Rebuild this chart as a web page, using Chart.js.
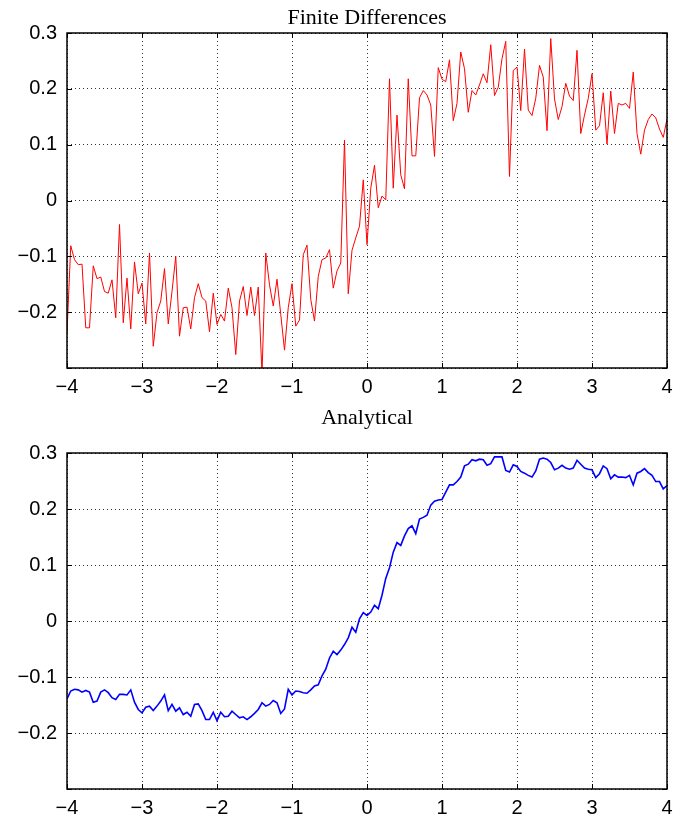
<!DOCTYPE html>
<html>
<head>
<meta charset="utf-8">
<script src="https://cdn.jsdelivr.net/npm/chart.js@4/dist/chart.umd.min.js"></script>
<style>
  html, body { margin: 0; padding: 0; background: #fff; }
  canvas { position: absolute; left: 0; }
  #graph-1 { top: 0; }
  #graph-2 { top: 410px; }
</style>
</head>
<body>
<canvas id="graph-1" width="688" height="410"></canvas>
<canvas id="graph-2" width="688" height="409"></canvas>
<script>
// sample grid: x from -4 to 4 in steps of 0.05 (161 samples)
const xStart = -4;
const xStep = 0.05;

const finiteDiff = [
  -0.237, -0.081, -0.106, -0.115, -0.114, -0.228, -0.228, -0.117, -0.140, -0.137,
  -0.163, -0.166, -0.142, -0.210, -0.043, -0.219, -0.139, -0.230, -0.110, -0.167,
  -0.148, -0.221, -0.094, -0.261, -0.201, -0.180, -0.122, -0.221, -0.163, -0.100,
  -0.243, -0.192, -0.191, -0.230, -0.174, -0.149, -0.174, -0.180, -0.235, -0.166,
  -0.222,
  -0.204, -0.216, -0.157, -0.192, -0.276, -0.180, -0.154, -0.206, -0.155, -0.206,
  -0.155, -0.310, -0.094, -0.151, -0.189, -0.141, -0.204, -0.268, -0.192, -0.149,
  -0.225, -0.214, -0.097, -0.080, -0.177, -0.216, -0.136, -0.106, -0.103, -0.088,
  -0.157, -0.126, -0.112, 0.108, -0.167, -0.089, -0.067, -0.046, 0.037, -0.079,
  0.022, 0.063, -0.013, 0.008, 0.001, 0.218, 0.022, 0.153, 0.046, 0.021,
  0.218, 0.080, 0.080, 0.184, 0.197, 0.189, 0.171, 0.079, 0.238, 0.217,
  0.213, 0.252, 0.143, 0.174, 0.266, 0.236, 0.158, 0.197, 0.189, 0.207,
  0.227, 0.211, 0.279, 0.188, 0.203, 0.254, 0.285, 0.043, 0.233, 0.239,
  0.161, 0.271, 0.162, 0.152, 0.183, 0.242, 0.221, 0.125, 0.290, 0.182,
  0.145, 0.168, 0.210, 0.187, 0.179, 0.269, 0.120, 0.153, 0.183, 0.227,
  0.126, 0.134, 0.193, 0.101, 0.196, 0.120, 0.174, 0.171, 0.174, 0.165,
  0.230, 0.120, 0.083, 0.126, 0.145, 0.155, 0.148, 0.128, 0.113, 0.146
];

const analytical = [
  -0.139, -0.125, -0.122, -0.123, -0.127, -0.124, -0.127, -0.145, -0.143, -0.127,
  -0.123, -0.128, -0.137, -0.140, -0.131, -0.131, -0.132, -0.123, -0.145, -0.158,
  -0.164, -0.154, -0.152, -0.160, -0.152, -0.143, -0.132, -0.160, -0.149, -0.161,
  -0.155, -0.167, -0.163, -0.170, -0.149, -0.148, -0.160, -0.176, -0.176, -0.163,
  -0.178,
  -0.163, -0.171, -0.170, -0.161, -0.167, -0.173, -0.171, -0.176, -0.171, -0.165,
  -0.158, -0.146, -0.152, -0.149, -0.142, -0.146, -0.165, -0.157, -0.122, -0.132,
  -0.125, -0.126, -0.128, -0.129, -0.123, -0.116, -0.114, -0.098, -0.086, -0.066,
  -0.054, -0.060, -0.052, -0.042, -0.030, -0.011, -0.020, 0.004, 0.015, 0.010,
  0.016, 0.028, 0.022, 0.046, 0.076, 0.095, 0.123, 0.140, 0.135, 0.152,
  0.165, 0.170, 0.156, 0.182, 0.185, 0.189, 0.207, 0.214, 0.216, 0.217,
  0.230, 0.243, 0.243, 0.249, 0.257, 0.277, 0.280, 0.288, 0.286, 0.289,
  0.288, 0.278, 0.281, 0.293, 0.293, 0.293, 0.269, 0.266, 0.279, 0.276,
  0.267, 0.264, 0.260, 0.257, 0.268, 0.289, 0.291, 0.289, 0.283, 0.270,
  0.273, 0.278, 0.273, 0.271, 0.273, 0.287, 0.280, 0.273, 0.271, 0.270,
  0.256, 0.263, 0.277, 0.272, 0.254, 0.261, 0.257, 0.257, 0.256, 0.260,
  0.243, 0.264, 0.267, 0.272, 0.265, 0.260, 0.249, 0.249, 0.236, 0.242
];

const xRange = [-4, 4];
const yRange = [-0.3, 0.3];
const hiddenYLabels = [-0.3];

const tickFont = { family: '"Liberation Sans", Arial, sans-serif', size: 20 };
const gridColor = 'rgba(0, 0, 0, 0.8)';

const toPoints = (values) => values.map((v, i) => ({ x: xStart + i * xStep, y: v }));

const fmt = (v) => {
  const r = Math.round(v * 10) / 10;
  return String(r).replace('-', '\u2212');
};

// box round the plot, inward tick marks and the serif title
const framePlugin = {
  id: 'frame',
  afterDatasetsDraw(chart, args, opts) {
    const { ctx, chartArea: { left, top, right, bottom }, scales: { x, y } } = chart;
    const len = 5;
    ctx.save();
    ctx.strokeStyle = '#000';
    ctx.lineWidth = 1;
    ctx.beginPath();
    x.ticks.forEach((t) => {
      const px = Math.round(x.getPixelForValue(t.value)) + 0.5;
      ctx.moveTo(px, bottom); ctx.lineTo(px, bottom - len);
      ctx.moveTo(px, top); ctx.lineTo(px, top + len);
    });
    y.ticks.forEach((t) => {
      const py = Math.round(y.getPixelForValue(t.value)) + 0.5;
      ctx.moveTo(left, py); ctx.lineTo(left + len, py);
      ctx.moveTo(right, py); ctx.lineTo(right - len, py);
    });
    ctx.stroke();
    ctx.lineWidth = 1.5;
    ctx.strokeRect(left, top, right - left, bottom - top);

    ctx.fillStyle = '#000';
    ctx.font = '22px "Liberation Serif", "DejaVu Serif", serif';
    ctx.textAlign = 'center';
    ctx.textBaseline = 'alphabetic';
    ctx.fillText(opts.title, (left + right) / 2, opts.titleY);
    ctx.restore();
  }
};

const makeOptions = (title, titleY, padTop, axisHeight) => ({
  responsive: false,
  animation: false,
  layout: { padding: { top: padTop, right: 21, left: 0, bottom: 0 } },
  plugins: {
    legend: { display: false },
    tooltip: { enabled: false },
    frame: { title, titleY }
  },
  scales: {
    x: {
      type: 'linear',
      min: xRange[0],
      max: xRange[1],
      grid: { color: gridColor, lineWidth: 1, drawTicks: false },
      border: { display: false, dash: [1, 3] },
      ticks: {
        stepSize: 1,
        color: '#000',
        font: tickFont,
        padding: 7,
        maxRotation: 0,
        callback: (v) => fmt(v)
      },
      afterFit: (scale) => { scale.height = axisHeight; }
    },
    y: {
      min: yRange[0],
      max: yRange[1],
      grid: { color: gridColor, lineWidth: 1, drawTicks: false },
      border: { display: false, dash: [1, 3] },
      ticks: {
        stepSize: 0.1,
        color: '#000',
        font: tickFont,
        padding: 10,
        callback: (v) => hiddenYLabels.some((h) => Math.abs(h - v) < 1e-9) ? '' : fmt(v)
      },
      afterFit: (scale) => { scale.width = 67; }
    }
  }
});

new Chart(document.getElementById('graph-1'), {
  type: 'line',
  data: {
    datasets: [{
      data: toPoints(finiteDiff),
      borderColor: '#ff0000',
      borderWidth: 1,
      pointRadius: 0,
      tension: 0
    }]
  },
  options: makeOptions('Finite Differences', 24, 33, 42),
  plugins: [framePlugin]
});

new Chart(document.getElementById('graph-2'), {
  type: 'line',
  data: {
    datasets: [{
      data: toPoints(analytical),
      borderColor: '#0000ff',
      borderWidth: 1.6,
      pointRadius: 0,
      tension: 0
    }]
  },
  options: makeOptions('Analytical', 14, 43, 30),
  plugins: [framePlugin]
});
</script>
</body>
</html>
